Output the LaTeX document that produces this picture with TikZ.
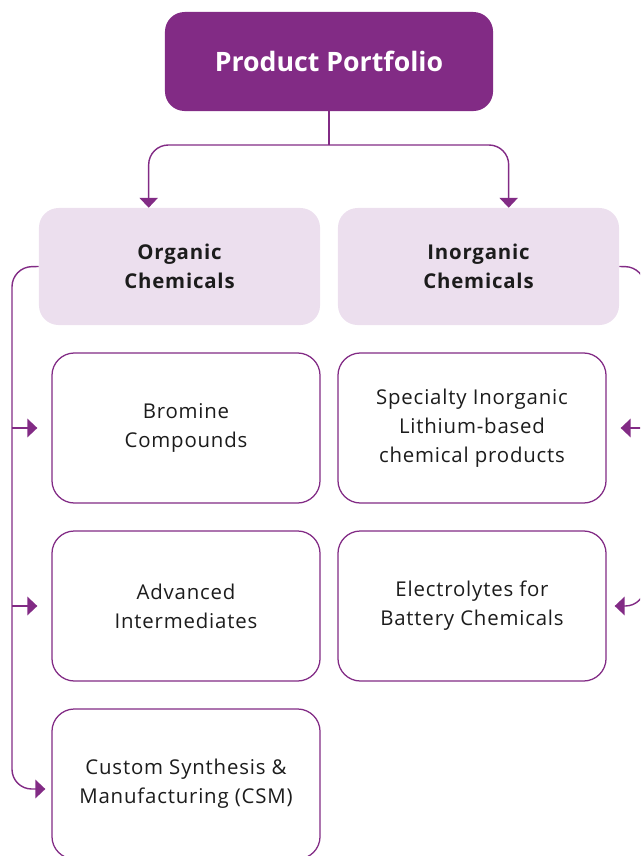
\documentclass[tikz,border=0pt]{standalone}
\usepackage{fontspec}
\setmainfont[LetterSpace=4]{Open Sans}
\newfontfamily\titlefont{Open Sans}
\usetikzlibrary{positioning,calc,arrows.meta}
\definecolor{portpurple}{HTML}{822B85}
\definecolor{portlight}{HTML}{ECDFEE}
\definecolor{porttext}{HTML}{1C1C1C}

\tikzset{
    titlebox/.style={fill=portpurple, rounded corners=14pt, text=white,
        minimum width=8.2cm, minimum height=2.475cm,
        font=\titlefont\fontsize{19}{23}\selectfont\bfseries},
    groupbox/.style={fill=portlight, rounded corners=14pt, text=porttext, align=center,
        minimum width=7.025cm, minimum height=2.925cm,
        font=\fontsize{14.5}{20.5}\selectfont\bfseries},
    itembox/.style={draw=portpurple, line width=0.9pt, fill=white, rounded corners=16pt,
        text=porttext, align=center, minimum width=6.7cm, minimum height=3.75cm,
        font=\fontsize{14.5}{20.5}\selectfont},
    link/.style={draw=portpurple, line width=1pt, rounded corners=14pt},
    linkarrow/.style={link, -{Triangle[length=7pt, width=13pt]}},
}

\begin{document}
\begin{tikzpicture}[x=0.025cm, y=-0.025cm]
                \clip (0,0) rectangle (640,856);

                \node[titlebox] (portfolio) at (329,61.5) {Product Portfolio};

                \node[groupbox] (organic) at (179.5,266.5) {Organic\\Chemicals};
                \node[groupbox] (inorganic) at (478.5,266.5) {Inorganic\\Chemicals};

                \node[itembox] (bromine) at (186,428) {Bromine\\Compounds};
                \node[itembox] (advanced) at (186,606) {Advanced\\Intermediates};
                \node[itembox] (csm) at (186,784) {Custom Synthesis \&\\Manufacturing (CSM)};

                \node[itembox] (lithium) at (472,428) {Specialty Inorganic\\Lithium-based\\chemical products};
                \node[itembox] (electro) at (472,606) {Electrolytes for\\Battery Chemicals};

                % from the top box down to the two groups
                \coordinate (split) at (329,145);
                \draw[link] (portfolio.south) -- (split);
                \draw[linkarrow] (split) -| ($(organic.north west)+(110,0)$);
                \draw[linkarrow] (split) -| ($(inorganic.north west)+(171,0)$);

                % organic side
                \coordinate (lspine) at (12,267);
                \draw[linkarrow] (organic.west) -- (lspine) |- ($(csm.west)+(-6,5)$);
                \draw[linkarrow] (bromine.west -| lspine) -- ($(bromine.west)+(-14,0)$);
                \draw[linkarrow] (advanced.west -| lspine) -- ($(advanced.west)+(-14,0)$);

                % inorganic side
                \coordinate (rspine) at (645,267);
                \draw[linkarrow] (inorganic.east) -- (rspine) |- ($(electro.east)+(8,0)$);
                \draw[linkarrow] (lithium.east -| rspine) -- ($(lithium.east)+(14,0)$);
            \end{tikzpicture}
\end{document}
